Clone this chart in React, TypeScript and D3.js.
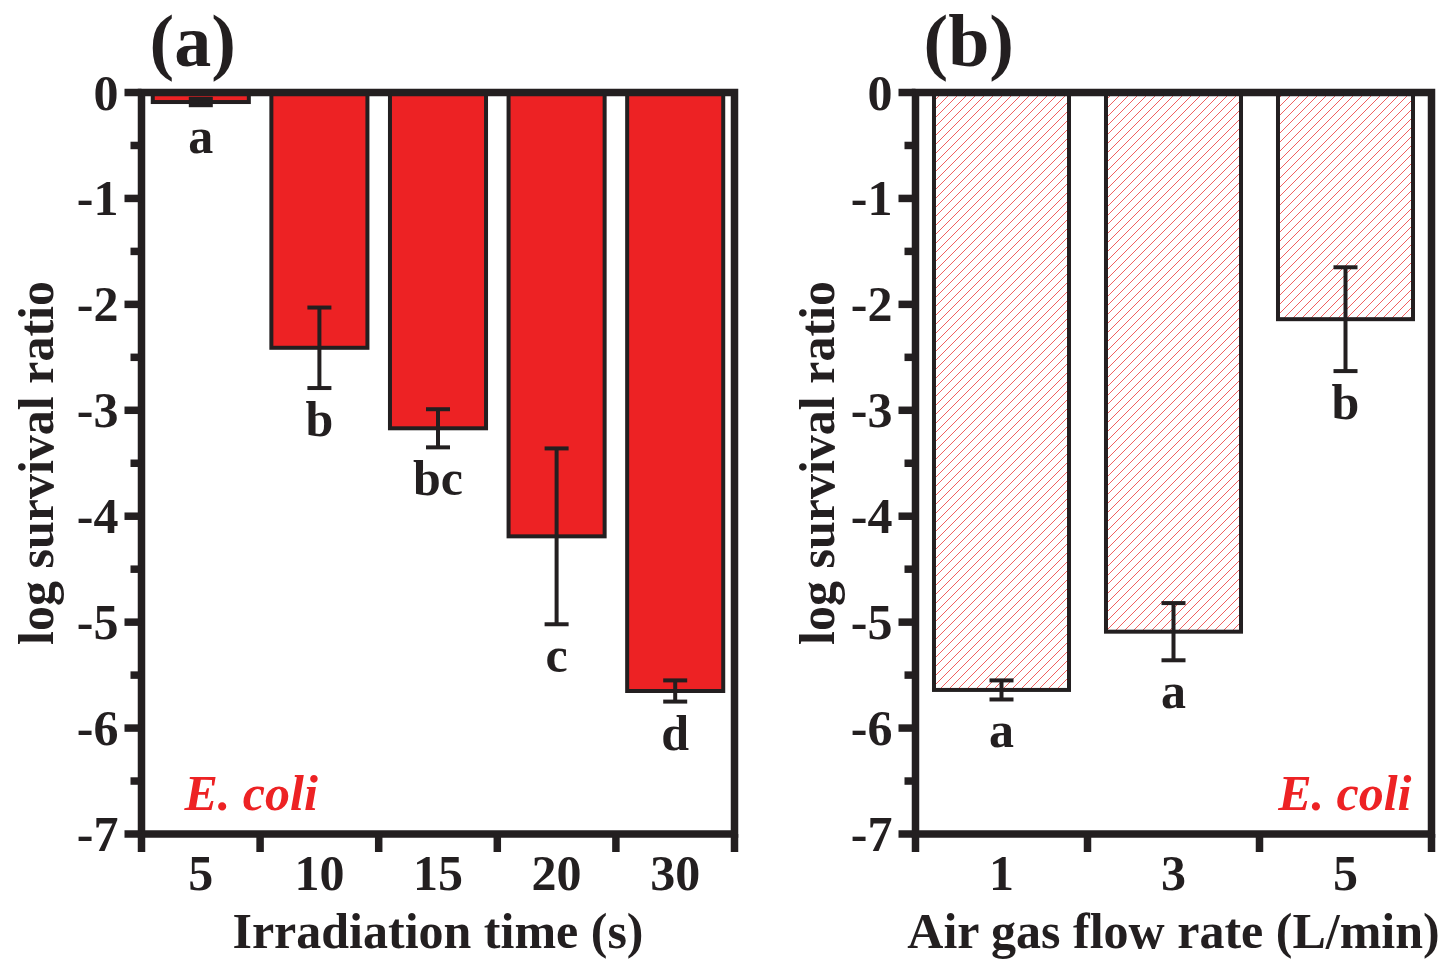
import React from "react"
import * as d3 from "d3"

// panel (a): irradiation time
const timeCats = ["5", "10", "15", "20", "30"]
const timeMeans = [-0.09, -2.41, -3.17, -4.19, -5.65]
const timeErrs = [0.03, 0.38, 0.18, 0.83, 0.1]
const timeLetters = ["a", "b", "bc", "c", "d"]

// panel (b): air gas flow rate
const flowCats = ["1", "3", "5"]
const flowMeans = [-5.64, -5.09, -2.14]
const flowErrs = [0.09, 0.27, 0.49]
const flowLetters = ["a", "a", "b"]

const yTicks = [0, -1, -2, -3, -4, -5, -6, -7]
const yMinor = [-0.5, -1.5, -2.5, -3.5, -4.5, -5.5, -6.5]

const INK = "#231f20"
const RED = "#ed2224"
const FONT = "'Liberation Serif', 'Times New Roman', serif"
const FS = 50

const y = d3.scaleLinear().domain([0, -7]).range([92.5, 834])

type PanelProps = {
  tag: string
  x0: number
  x1: number
  cats: string[]
  means: number[]
  errs: number[]
  letters: string[]
  hatched: boolean
  pad: number
  xTitle: string
  yTitleX: number
  ecoliRight: boolean
}

function Panel(p: PanelProps) {
  const x = d3.scaleBand<string>().domain(p.cats).range([p.x0, p.x1]).paddingInner(p.pad).paddingOuter(p.pad / 2)
  const step = x.step()
  const bounds = d3.range(p.cats.length + 1).map(i => p.x0 + i * step)
  const [yTop, yBot] = y.range()
  const fw = 7.5

  return (
    <g>
      <text x={p.x0 + 8} y={66} fontSize={74} fontWeight="bold" fill={INK} fontFamily={FONT}>{p.tag}</text>

      {p.cats.map((c, i) => {
        const bx = x(c)!
        const bw = x.bandwidth()
        const cx = bx + bw / 2
        const lo = y(p.means[i] - p.errs[i])
        const hi = y(p.means[i] + p.errs[i])
        return (
          <g key={c}>
            <rect x={bx} y={yTop} width={bw} height={y(p.means[i]) - yTop}
              fill={p.hatched ? "url(#hatch)" : RED} stroke={INK} strokeWidth={4} />
            <line x1={cx} x2={cx} y1={hi} y2={lo} stroke={INK} strokeWidth={4} />
            <line x1={cx - 12} x2={cx + 12} y1={hi} y2={hi} stroke={INK} strokeWidth={4} />
            <line x1={cx - 12} x2={cx + 12} y1={lo} y2={lo} stroke={INK} strokeWidth={4} />
            <text x={cx} y={lo + 48} textAnchor="middle" fontSize={FS} fontWeight="bold" fill={INK} fontFamily={FONT}>{p.letters[i]}</text>
            <text x={cx} y={890} textAnchor="middle" fontSize={FS} fontWeight="bold" fill={INK} fontFamily={FONT}>{c}</text>
          </g>
        )
      })}

      {/* frame */}
      <rect x={p.x0} y={yTop} width={p.x1 - p.x0} height={yBot - yTop} fill="none" stroke={INK} strokeWidth={fw} />

      {/* y ticks */}
      {yTicks.map(t => (
        <g key={t}>
          <line x1={p.x0 - 17} x2={p.x0} y1={y(t)} y2={y(t)} stroke={INK} strokeWidth={fw} />
          <text x={p.x0 - 23} y={y(t) + 17} textAnchor="end" fontSize={FS} fontWeight="bold" fill={INK} fontFamily={FONT}>{t}</text>
        </g>
      ))}
      {yMinor.map(t => (
        <line key={t} x1={p.x0 - 11} x2={p.x0} y1={y(t)} y2={y(t)} stroke={INK} strokeWidth={fw} />
      ))}

      {/* x ticks */}
      {bounds.map((b, i) => (
        <line key={i} x1={b} x2={b} y1={yBot} y2={yBot + 18} stroke={INK} strokeWidth={fw} />
      ))}

      <text x={(p.x0 + p.x1) / 2} y={948} textAnchor="middle" fontSize={FS} fontWeight="bold" fill={INK} fontFamily={FONT}>{p.xTitle}</text>
      <text transform={`translate(${p.yTitleX},463) rotate(-90)`} textAnchor="middle" fontSize={FS} fontWeight="bold" fill={INK} fontFamily={FONT}>log survival ratio</text>

      <text x={p.ecoliRight ? p.x1 - 20 : p.x0 + 43} y={810} textAnchor={p.ecoliRight ? "end" : "start"}
        fontSize={FS} fontWeight="bold" fontStyle="italic" fill={RED} fontFamily={FONT}>E. coli</text>
    </g>
  )
}

export default function App() {
  return (
    <svg width={1441} height={963} viewBox="0 0 1441 963" style={{ position: "absolute", left: 0, top: 0, background: "#fff" }}>
      <defs>
        <pattern id="hatch" patternUnits="userSpaceOnUse" width={9} height={9}>
          <rect width={9} height={9} fill="#fff" />
          <path d="M0,9 L9,0 M-2,2 L2,-2 M7,11 L11,7" stroke="#f06060" strokeWidth={1} />
        </pattern>
      </defs>
      <Panel tag="(a)" x0={141.5} x1={734.5} cats={timeCats} means={timeMeans} errs={timeErrs}
        letters={timeLetters} hatched={false} pad={0.19} xTitle="Irradiation time (s)" yTitleX={53} ecoliRight={false} />
      <Panel tag="(b)" x0={915.5} x1={1431.5} cats={flowCats} means={flowMeans} errs={flowErrs}
        letters={flowLetters} hatched={true} pad={0.215} xTitle="Air gas flow rate (L/min)" yTitleX={834} ecoliRight={true} />
    </svg>
  )
}
